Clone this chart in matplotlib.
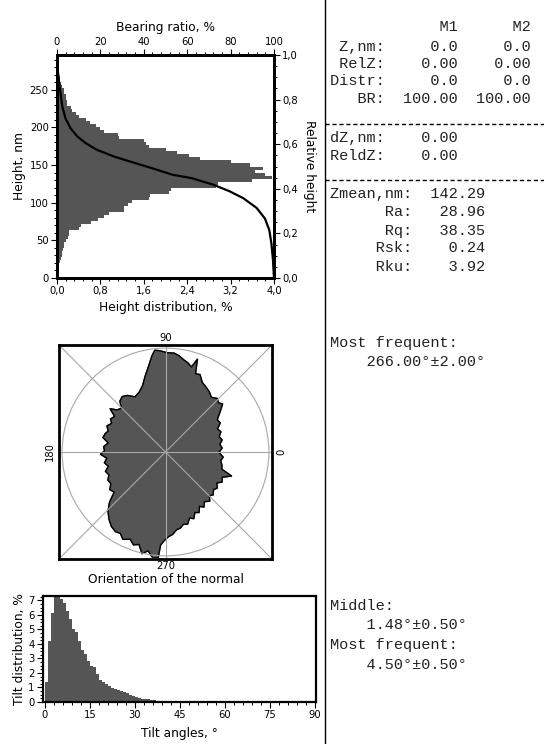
import numpy as np
import matplotlib
matplotlib.use("Agg")
import matplotlib.pyplot as plt
from matplotlib.lines import Line2D
from matplotlib.patches import Circle
from matplotlib.ticker import MultipleLocator

# ---------------- data ----------------
# Height distribution (horizontal histogram), 4 nm bins starting at 0 nm
height_bin_width = 4
height_dist = [0.01, 0.01, 0.02, 0.03, 0.03, 0.05, 0.08, 0.09, 0.09, 0.11,
               0.12, 0.13, 0.16, 0.20, 0.22, 0.23, 0.40, 0.45, 0.62, 0.75,
               0.87, 0.95, 1.24, 1.24, 1.30, 1.38, 1.70, 1.72, 2.07, 2.10,
               2.94, 2.97, 3.60, 3.96, 3.83, 3.65, 3.80, 3.56, 3.20, 2.63,
               2.44, 2.22, 2.01, 1.70, 1.64, 1.60, 1.14, 1.12, 0.87, 0.80,
               0.71, 0.60, 0.53, 0.40, 0.35, 0.28, 0.25, 0.19, 0.19, 0.17,
               0.16, 0.12, 0.12, 0.10, 0.08, 0.06, 0.05, 0.03]

# Bearing ratio curve (height nm, bearing ratio %)
bearing_height = [272, 262, 246, 228, 212, 199, 188, 179, 170, 161, 152.5,
                  146, 137, 132.6, 124, 115, 106, 93, 79, 64, 46, 25, 0]
bearing_ratio = [0.5, 0.9, 1.6, 2.4, 3.9, 6.2, 9.3, 13.2, 18.5, 26.5, 36.0,
                 43.5, 53.3, 62.0, 71.9, 79.6, 85.8, 92.0, 95.8, 97.8, 98.8,
                 99.5, 100.0]

height_ticks = [0, 50, 100, 150, 200, 250]
dist_ticks = [0.0, 0.8, 1.6, 2.4, 3.2, 4.0]
dist_ticklabels = ["0,0", "0,8", "1,6", "2,4", "3,2", "4,0"]
br_ticks = [0, 20, 40, 60, 80, 100]
rel_ticks = [0.0, 0.2, 0.4, 0.6, 0.8, 1.0]
rel_ticklabels = ["0,0", "0,2", "0,4", "0,6", "0,8", "1,0"]

# Orientation of the normal (polar outline: angle deg, relative radius)
orient_theta = [0, 4, 8, 12, 16, 20, 24, 28, 32, 36, 40, 43, 46, 50, 54, 58,
                62, 66, 69, 71, 73, 76, 79, 82, 85, 89, 93, 96, 98, 101, 105,
                109, 114, 119, 124, 128, 132, 135, 139, 142, 145, 149, 152,
                156, 160, 163, 167, 171, 175, 179, 182, 186, 190, 194, 198,
                202, 206, 210, 214, 218, 222, 226, 230, 234, 238, 241, 244,
                248, 251, 254, 257, 260, 263, 266, 267, 269, 272, 275, 278,
                281, 284, 287, 290, 293, 296, 299, 302, 305, 308, 312, 315,
                318, 322, 325, 329, 332, 336, 340, 343, 347, 351, 355, 358]
orient_r = [0.52, 0.55, 0.53, 0.56, 0.54, 0.57, 0.55, 0.60, 0.59, 0.65, 0.72,
            0.70, 0.72, 0.69, 0.72, 0.74, 0.76, 0.82, 0.81, 0.95, 0.86, 0.89,
            0.91, 0.94, 0.96, 0.96, 0.98, 0.99, 0.94, 0.85, 0.76, 0.68, 0.63,
            0.61, 0.66, 0.68, 0.66, 0.60, 0.62, 0.68, 0.60, 0.62, 0.59, 0.62,
            0.59, 0.61, 0.62, 0.56, 0.60, 0.59, 0.63, 0.57, 0.60, 0.57, 0.61,
            0.59, 0.62, 0.61, 0.65, 0.63, 0.73, 0.80, 0.85, 0.89, 0.91, 0.90,
            0.94, 0.91, 0.95, 0.93, 1.01, 0.97, 1.03, 1.03, 0.90, 0.86, 0.82,
            0.80, 0.76, 0.75, 0.72, 0.73, 0.68, 0.70, 0.65, 0.67, 0.62, 0.65,
            0.61, 0.64, 0.60, 0.62, 0.59, 0.61, 0.58, 0.62, 0.60, 0.68, 0.57,
            0.56, 0.54, 0.56, 0.53]

# Tilt distribution, 1 degree bins from 0
tilt_dist = [1.4, 4.2, 6.1, 7.25, 7.3, 7.1, 6.8, 6.3, 5.7, 5.0,
             4.8, 4.2, 3.6, 3.3, 2.8, 2.5, 2.4, 1.9, 1.5, 1.4,
             1.25, 1.1, 0.95, 0.9, 0.85, 0.78, 0.7, 0.6, 0.5, 0.4,
             0.32, 0.27, 0.22, 0.2, 0.18, 0.15, 0.12, 0.09, 0.07, 0.05,
             0.04, 0.04, 0.03, 0.03, 0.02, 0.02, 0.02, 0.02, 0.01, 0.01]
tilt_ticks = [0, 15, 30, 45, 60, 75, 90]
tilt_yticks = [0, 1, 2, 3, 4, 5, 6, 7]

stats_header = ["", "M1", "M2"]
stats_rows1 = [("Z,nm:", "0.0", "0.0"), ("RelZ:", "0.00", "0.00"),
               ("Distr:", "0.0", "0.0"), ("BR:", "100.00", "100.00")]
stats_rows2 = [("dZ,nm:", "0.00"), ("ReldZ:", "0.00")]
stats_rows3 = [("Zmean,nm:", "142.29"), ("Ra:", "28.96"), ("Rq:", "38.35"),
               ("Rsk:", "0.24"), ("Rku:", "3.92")]

# ---------------- figure ----------------
W, H = 544, 744
fig = plt.figure(figsize=(W / 100, H / 100), dpi=100)
fig.patch.set_facecolor("white")

FILL = "#555555"
TICK_FS = 7.2
LAB_FS = 8.8
MONO = "Liberation Mono"
MONO_FS = 11.0


def rect(l, t, r, b):
    return [l / W, 1 - b / H, (r - l) / W, (b - t) / H]


def style_frame(ax, lw=2.0):
    for s in ax.spines.values():
        s.set_linewidth(lw)
        s.set_color("black")


# ---- top: height distribution + bearing ratio ----
ax = fig.add_axes(rect(57, 55, 274, 278))
edges = np.arange(len(height_dist)) * height_bin_width
ax.barh(edges, height_dist, height=height_bin_width, align="edge",
        color=FILL, linewidth=0)
ax.set_xlim(0, 4.0)
ax.set_ylim(0, 296)
ax.set_xticks(dist_ticks)
ax.set_xticklabels(dist_ticklabels)
ax.set_yticks(height_ticks)
ax.xaxis.set_minor_locator(MultipleLocator(0.16))
ax.yaxis.set_minor_locator(MultipleLocator(10))
ax.tick_params(which="major", length=4, width=0.8, labelsize=TICK_FS, pad=2)
ax.tick_params(which="minor", length=2, width=0.7)
ax.set_xlabel("Height distribution, %", fontsize=LAB_FS, labelpad=3)
ax.set_ylabel("Height, nm", fontsize=LAB_FS, labelpad=3)
style_frame(ax)

axt = ax.twiny()
axt.plot(bearing_ratio, bearing_height, color="black", lw=1.6)
axt.set_xlim(0, 100)
axt.set_xticks(br_ticks)
axt.xaxis.set_minor_locator(MultipleLocator(4))
axt.tick_params(which="major", length=4, width=0.8, labelsize=TICK_FS, pad=2)
axt.tick_params(which="minor", length=2, width=0.7)
axt.set_xlabel("Bearing ratio, %", fontsize=LAB_FS, labelpad=4)
style_frame(axt)

axr = ax.twinx()
axr.set_ylim(0, 1.0)
axr.set_yticks(rel_ticks)
axr.set_yticklabels(rel_ticklabels)
axr.yaxis.set_minor_locator(MultipleLocator(0.05))
axr.tick_params(which="major", length=4, width=0.8, labelsize=TICK_FS, pad=2)
axr.tick_params(which="minor", length=2, width=0.7)
axr.set_ylabel("Relative height", fontsize=LAB_FS, rotation=270, labelpad=13)
style_frame(axr)

# ---- middle: orientation of the normal ----
prect = rect(59, 345, 272, 559)
axp = fig.add_axes(prect, projection="polar")
th = np.deg2rad(np.array(orient_theta + [orient_theta[0]]))
rr = np.array(orient_r + [orient_r[0]])
axp.fill(th, rr, color=FILL, zorder=2)
axp.plot(th, rr, color="black", lw=1.0, zorder=3)
axp.set_ylim(0, 1.03)
axp.set_xticks([])
axp.set_yticks([])
axp.grid(False)
axp.spines["polar"].set_visible(False)
axp.patch.set_alpha(0)

axf = fig.add_axes(prect)
axf.set_zorder(axp.get_zorder() + 1)
axf.patch.set_alpha(0)
L = 1.03
axf.set_xlim(-L, L)
axf.set_ylim(-L, L)
gcol = "#a8a8a8"
axf.plot([-L, L], [-L, L], color=gcol, lw=0.8)
axf.plot([-L, L], [L, -L], color=gcol, lw=0.8)
axf.plot([-L, L], [0, 0], color=gcol, lw=0.8)
axf.plot([0, 0], [-L, L], color=gcol, lw=0.8)
axf.add_patch(Circle((0, 0), 1.0, fill=False, ec=gcol, lw=0.8))
axf.set_xticks([])
axf.set_yticks([])
style_frame(axf)
axf.text(0.5, 1.01, "90", transform=axf.transAxes, ha="center", va="bottom",
         fontsize=TICK_FS)
axf.text(0.5, -0.01, "270", transform=axf.transAxes, ha="center", va="top",
         fontsize=TICK_FS)
axf.text(-0.02, 0.5, "180", transform=axf.transAxes, ha="right",
         va="center", rotation=90, fontsize=TICK_FS)
axf.text(1.02, 0.5, "0", transform=axf.transAxes, ha="left", va="center",
         rotation=90, fontsize=TICK_FS)
axf.text(0.5, -0.065, "Orientation of the normal", transform=axf.transAxes,
         ha="center", va="top", fontsize=LAB_FS)

# ---- bottom: tilt distribution ----
axb = fig.add_axes(rect(43, 596, 316, 702))
axb.bar(np.arange(len(tilt_dist)), tilt_dist, width=1.0, align="edge",
        color=FILL, linewidth=0)
axb.set_xlim(-0.6, 90.3)
axb.set_ylim(0, 7.3)
axb.set_xticks(tilt_ticks)
axb.set_yticks(tilt_yticks)
axb.xaxis.set_minor_locator(MultipleLocator(3))
axb.yaxis.set_minor_locator(MultipleLocator(0.25))
axb.tick_params(which="major", length=4, width=0.8, labelsize=TICK_FS, pad=2)
axb.tick_params(which="minor", length=2, width=0.7)
axb.set_xlabel("Tilt angles, °", fontsize=LAB_FS, labelpad=5)
axb.set_ylabel("Tilt distribution, %", fontsize=LAB_FS, labelpad=2)
style_frame(axb, 1.6)

# ---- right panel: statistics text ----
XL = 325
fig.add_artist(Line2D([XL / W, XL / W], [0, 1], transform=fig.transFigure,
                      color="black", lw=1.0))
for yy in (124, 180):
    fig.add_artist(Line2D([XL / W, 1], [1 - yy / H, 1 - yy / H],
                          transform=fig.transFigure, color="black", lw=1.0,
                          linestyle=(0, (3, 2))))


def mono(x, y, s):
    fig.text(x / W, 1 - y / H, s, family=MONO, fontsize=MONO_FS,
             ha="left", va="center", color="#222222")


X0 = 330
mono(X0, 27, f"{stats_header[0]:>6}{stats_header[1]:>8}{stats_header[2]:>8}")
for y, (lab, v1, v2) in zip([46.7, 63.5, 81, 99], stats_rows1):
    mono(X0, y, f"{lab:>6}{v1:>8}{v2:>8}")
for y, (lab, v1) in zip([138, 155.7], stats_rows2):
    mono(X0, y, f"{lab:>6}{v1:>8}")
for y, (lab, v1) in zip([194, 212, 231, 248, 266.7], stats_rows3):
    mono(X0, y, f"{lab:>9}{v1:>8}")

mono(X0, 343, "Most frequent:")
mono(X0, 362, "    266.00°±2.00°")
mono(X0, 606, "Middle:")
mono(X0, 625, "    1.48°±0.50°")
mono(X0, 645, "Most frequent:")
mono(X0, 665, "    4.50°±0.50°")

fig.savefig("out.png", dpi=100, facecolor="white")
